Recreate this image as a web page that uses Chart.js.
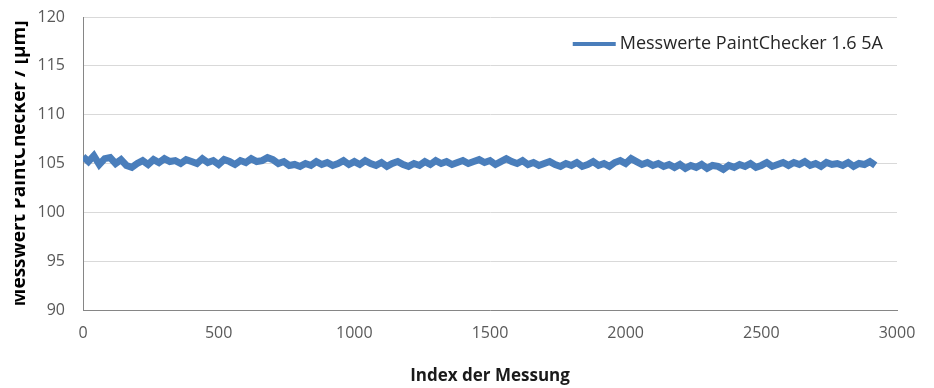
<!DOCTYPE html>
<html>
<head>
<meta charset="utf-8">
<script src="https://cdn.jsdelivr.net/npm/chart.js@4"></script>
<style>
  body { margin: 0; background: #fff; overflow: hidden; }
  #wrap { position: relative; width: 934px; height: 388px; }
  #cut { position: absolute; left: 0; top: 0; width: 15px; height: 388px; background: #fff; }
</style>
</head>
<body>
<div id="wrap">
  <canvas id="chart" width="934" height="388"></canvas>
  <div id="cut"></div>
</div>
<script>
// Measurement index step (one sample read every 20 indices)
const indexStep = 20;
const seriesLabel = "Messwerte PaintChecker 1.6 5A";
const xTitle = "Index der Messung";
const yTitle = "Messwert PaintChecker / [µm]";

// Values
const values = [
  105.7, 105.2, 105.8, 104.9, 105.5, 105.6, 105.0, 105.4, 104.8, 104.6,
  105.0, 105.3, 104.9, 105.4, 105.1, 105.5, 105.2, 105.3, 105.0, 105.4,
  105.2, 105.0, 105.5, 105.1, 105.3, 104.9, 105.4, 105.2, 104.9, 105.3,
  105.1, 105.5, 105.2, 105.3, 105.6, 105.4, 105.0, 105.2, 104.8, 104.9,
  104.7, 105.0, 104.8, 105.2, 104.9, 105.1, 104.8, 105.0, 105.3, 104.9,
  105.2, 104.9, 105.3, 105.0, 104.8, 105.1, 104.7, 105.0, 105.2, 104.9,
  104.7, 105.0, 104.8, 105.2, 104.9, 105.3, 105.0, 105.2, 104.9, 105.1,
  105.3, 105.0, 105.2, 105.4, 105.1, 105.3, 104.9, 105.2, 105.5, 105.2,
  105.0, 105.3, 104.9, 105.1, 104.8, 105.0, 105.2, 104.9, 104.7, 105.0,
  104.8, 105.1, 104.7, 104.9, 105.2, 104.8, 105.0, 104.7, 105.1, 105.3,
  105.0, 105.5, 105.2, 104.9, 105.1, 104.8, 105.0, 104.7, 104.9, 104.6,
  104.9, 104.5, 104.8, 104.6, 104.9, 104.5, 104.8, 104.7, 104.4, 104.8,
  104.6, 104.9, 104.7, 105.0, 104.6, 104.8, 105.1, 104.7, 104.9, 105.1,
  104.8, 105.1, 104.9, 105.2, 104.8, 105.0, 104.7, 105.1, 104.9, 105.0,
  104.8, 105.1, 104.7, 105.0, 104.9, 105.2, 104.8
];

const xTicks = [0, 500, 1000, 1500, 2000, 2500, 3000];
const yTicks = [90, 95, 100, 105, 110, 115, 120];

const points = values.map((v, i) => ({ x: i * indexStep, y: v }));

const blue = "#4a7ebb";
const tickColor = "#595959";

// legend drawn inside the plot, top right
const insideLegend = {
  id: "insideLegend",
  afterDraw(chart) {
    const ctx = chart.ctx;
    const area = chart.chartArea;
    const ds = chart.data.datasets[0];
    ctx.save();
    ctx.font = "18px 'Open Sans'";
    const tw = ctx.measureText(ds.label).width;
    const textX = area.right - 14 - tw;
    const y = 44;
    ctx.strokeStyle = blue;
    ctx.lineWidth = 4;
    ctx.beginPath();
    ctx.moveTo(textX - 47, y);
    ctx.lineTo(textX - 4, y);
    ctx.stroke();
    ctx.fillStyle = "#262626";
    ctx.textBaseline = "middle";
    ctx.fillText(ds.label, textX, y);
    ctx.restore();
  }
};

new Chart(document.getElementById("chart"), {
  type: "line",
  data: {
    datasets: [{
      label: seriesLabel,
      data: points,
      borderColor: blue,
      backgroundColor: blue,
      borderWidth: 7,
      pointRadius: 0,
      tension: 0
    }]
  },
  options: {
    responsive: false,
    animation: false,
    layout: { padding: { top: 17, right: 37, left: 0, bottom: 0 } },
    plugins: {
      tooltip: { enabled: false },
      legend: { display: false }
    },
    scales: {
      x: {
        type: "linear",
        min: 0,
        max: 3000,
        afterFit: s => { s.height = 78; s.paddingLeft = 0; s.paddingRight = 0; },
        afterBuildTicks: s => { s.ticks = xTicks.map(v => ({ value: v })); },
        grid: { display: false, drawTicks: false },
        border: { display: true, color: "#868686", width: 1 },
        ticks: { color: tickColor, padding: 14, font: { family: "Open Sans", size: 16 }, callback: v => String(v) },
        title: {
          display: true,
          text: xTitle,
          color: "#1a1a1a",
          font: { family: "Open Sans", size: 17, weight: "bold" },
          padding: { top: 0, bottom: 2 }
        }
      },
      y: {
        min: 90,
        max: 120,
        afterFit: s => { s.width = 83; s.paddingTop = 0; s.paddingBottom = 0; },
        afterBuildTicks: s => { s.ticks = yTicks.map(v => ({ value: v })); },
        grid: { color: "#d9d9d9", drawTicks: false },
        border: { display: true, color: "#868686", width: 1 },
        ticks: { color: tickColor, padding: 18, font: { family: "Open Sans", size: 16 }, callback: v => String(v) },
        title: {
          display: true,
          text: yTitle,
          color: "#000",
          font: { family: "Open Sans", size: 19, weight: "bold" },
          padding: { top: 8, bottom: 0 }
        }
      }
    }
  },
  plugins: [insideLegend]
});
</script>
</body>
</html>
